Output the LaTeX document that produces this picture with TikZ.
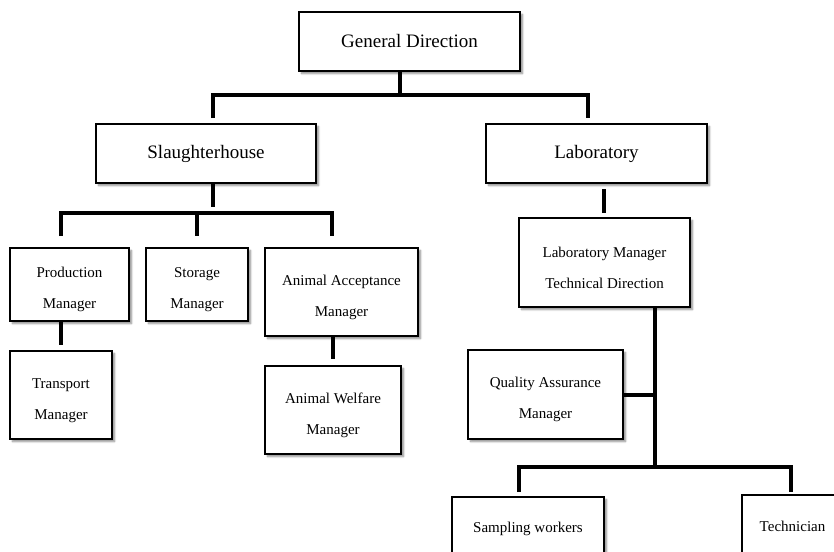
\documentclass[tikz,border=0pt]{standalone}
\usepackage{fontspec}
\setmainfont{Liberation Serif}
\usetikzlibrary{shadows.blur}
\newcommand{\dnstrut}{\rule{0pt}{20.5pt}}
\begin{document}
\begin{tikzpicture}[x=1pt,y=-1pt,
  box/.style={draw=black, line width=1.4pt, fill=white, align=center, inner sep=0pt,
    blur shadow={shadow xshift=2.5pt, shadow yshift=-2.5pt, shadow blur steps=6, shadow opacity=45}},
  big/.style={box, font=\fontsize{19}{23}\selectfont},
  small/.style={box, font=\fontsize{15}{31}\selectfont},
  conn/.style={line width=4.5pt, draw=black}]
\useasboundingbox (0,0) rectangle (834,551);
% boxes
\node[big, minimum width=221pt, minimum height=59pt] (gd) at (409.5,41.5) {General Direction};
\node[big, minimum width=220pt, minimum height=59pt] (sh) at (206,153.5) {Slaughterhouse};
\node[big, minimum width=221pt, minimum height=59pt] (lab) at (596.5,153.5) {Laboratory};
\node[small, minimum width=119pt, minimum height=73pt] (prod) at (69.5,284.5) {\dnstrut Production\\Manager};
\node[small, minimum width=102pt, minimum height=73pt] (stor) at (197,284.5) {\dnstrut Storage\\Manager};
\node[small, minimum width=153pt, minimum height=88pt] (aam) at (341.5,292) {\dnstrut Animal Acceptance\\Manager};
\node[small, minimum width=102pt, minimum height=88pt] (trans) at (61,395) {\dnstrut Transport\\Manager};
\node[small, minimum width=136pt, minimum height=88pt] (awm) at (333,410) {\dnstrut Animal Welfare\\Manager};
\node[small, minimum width=171pt, minimum height=89pt] (lm) at (604.5,262.5) {\dnstrut Laboratory Manager\\Technical Direction};
\node[small, minimum width=155pt, minimum height=89pt] (qa) at (545.5,394.5) {\dnstrut Quality Assurance\\Manager};
\node[small, minimum width=152pt, minimum height=63pt] (samp) at (528,528.5) {Sampling workers};
\node[small, minimum width=101pt, minimum height=63pt] (tech) at (792.5,526.5) {Technician};
% junction coordinates
\coordinate (g0) at (400,95);
\coordinate (g1) at (213,95);
\coordinate (g2) at (588,95);
\coordinate (g1e) at (213,118);
\coordinate (g2e) at (588,118);
\coordinate (s0) at (213,207);
\coordinate (s1) at (61,213);
\coordinate (s2) at (197,213);
\coordinate (s3) at (332,213);
\coordinate (s1e) at (61,236);
\coordinate (s2e) at (197,236);
\coordinate (s3e) at (332,236);
\coordinate (p0) at (61,345);
\coordinate (a0) at (333,359);
\coordinate (l0) at (604,189);
\coordinate (l1) at (604,213);
\coordinate (m0) at (655,467);
\coordinate (q0) at (655,395);
\coordinate (b1) at (519,467);
\coordinate (b2) at (791,467);
\coordinate (b1e) at (519,492);
\coordinate (b2e) at (791,492);
% connectors
\draw[conn] (gd.south -| g0) -- (g0);
\draw[conn] (g1e) -- (g1) -- (g2) -- (g2e);
\draw[conn] (sh.south -| s0) -- (s0);
\draw[conn] (s1e) -- (s1) -- (s3) -- (s3e);
\draw[conn] (s2) -- (s2e);
\draw[conn] (prod.south -| p0) -- (p0);
\draw[conn] (aam.south -| a0) -- (a0);
\draw[conn] (l0) -- (l1);
\draw[conn] (lm.south -| m0) -- (m0);
\draw[conn] (qa.east |- q0) -- (q0);
\draw[conn] (b1e) -- (b1) -- (b2) -- (b2e);
\end{tikzpicture}
\end{document}
